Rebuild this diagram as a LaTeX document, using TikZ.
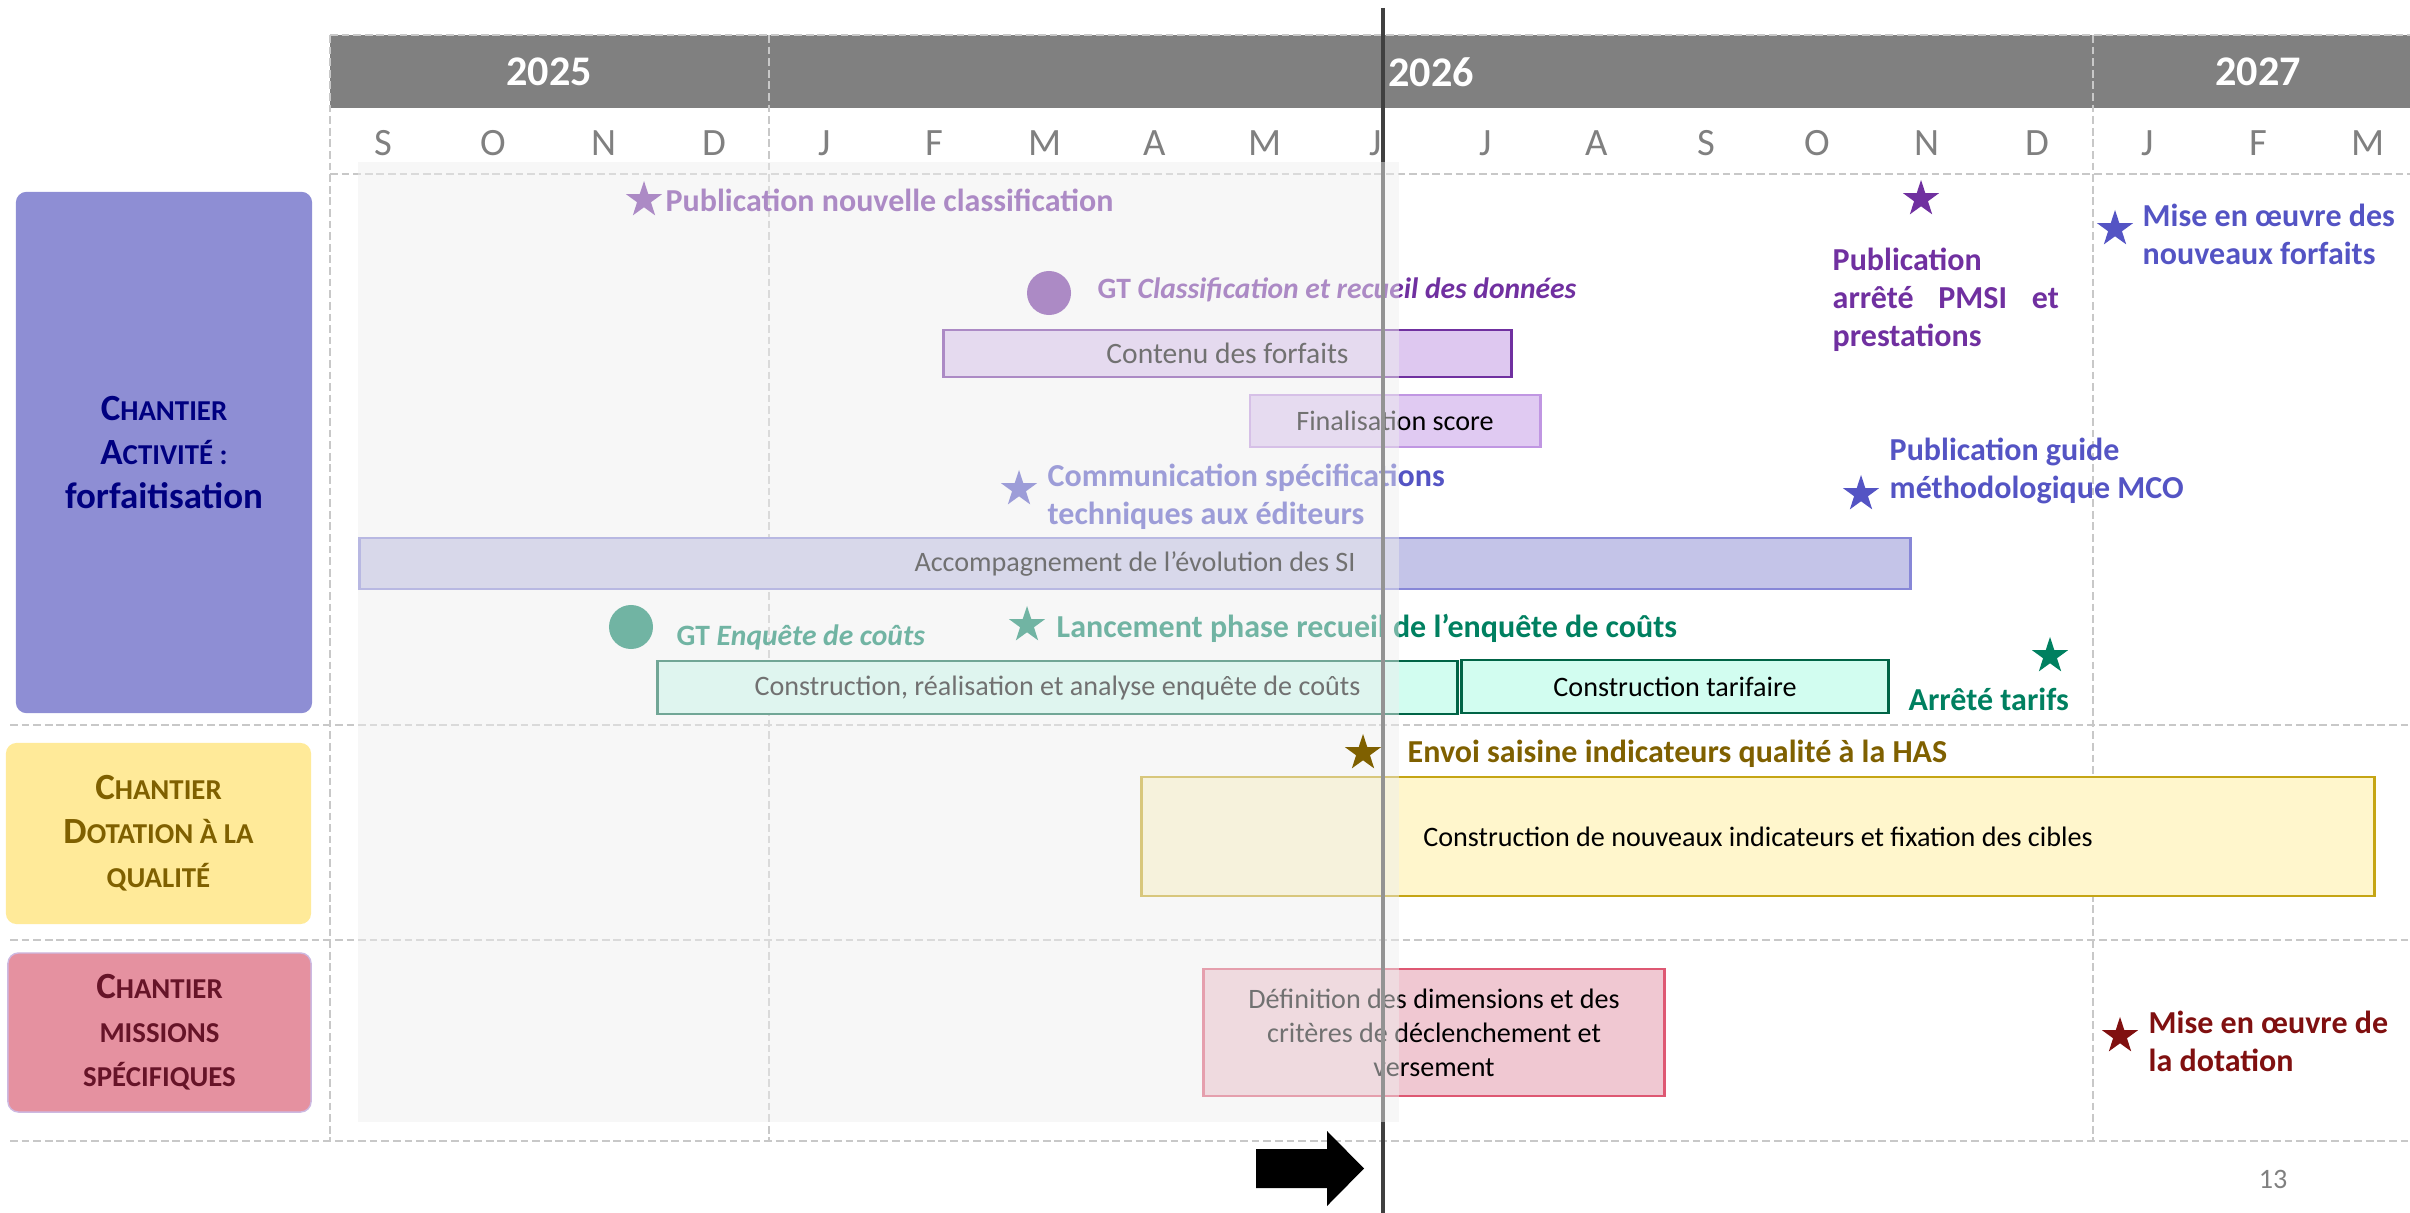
\documentclass[tikz,border=0pt]{standalone}
\usepackage{fontspec}
\setmainfont{Carlito}
\usepackage{tikz}
\usetikzlibrary{shapes.geometric}

\definecolor{headgray}{RGB}{128,128,128}
\definecolor{gridgray}{RGB}{200,200,200}
\definecolor{veilgray}{RGB}{238,238,238}
\definecolor{actviolet}{RGB}{142,142,212}
\definecolor{actnavy}{RGB}{0,0,128}
\definecolor{qualyellow}{RGB}{255,234,153}
\definecolor{qualolive}{RGB}{127,96,0}
\definecolor{misrose}{RGB}{229,145,160}
\definecolor{mismaroon}{RGB}{102,20,40}
\definecolor{classpurple}{RGB}{112,48,160}
\definecolor{siblue}{RGB}{84,84,196}
\definecolor{coutgreen}{RGB}{0,128,96}
\definecolor{dotred}{RGB}{128,16,16}
\definecolor{contenufill}{RGB}{222,200,240}
\definecolor{scorefill}{RGB}{224,202,242}
\definecolor{scoredraw}{RGB}{192,150,226}
\definecolor{sifill}{RGB}{196,196,232}
\definecolor{sidraw}{RGB}{135,135,215}
\definecolor{enqfill}{RGB}{210,253,240}
\definecolor{enqdraw}{RGB}{0,100,70}
\definecolor{indicfill}{RGB}{255,246,204}
\definecolor{indicdraw}{RGB}{197,165,20}
\definecolor{deffill}{RGB}{240,200,210}
\definecolor{defdraw}{RGB}{222,88,115}
\definecolor{todaygray}{RGB}{64,64,64}

\newcommand{\bigsc}[2]{#1{\fontsize{8.2}{12.5}\selectfont #2}}

\begin{document}
\begin{tikzpicture}[x=0.01cm,y=-0.01cm,
    griddash/.style={gridgray, line width=0.6pt, dash pattern=on 2.2pt off 1.1pt},
    annee/.style={text=white, font=\bfseries\fontsize{12}{14}\selectfont},
    mois/.style={text=headgray, font=\fontsize{11}{13}\selectfont},
    chantier/.style={rounded corners=3pt, inner sep=0pt, align=center, font=\bfseries\fontsize{10.5}{12.5}\selectfont},
    tache/.style={draw, line width=0.8pt, inner sep=0pt, align=center, font=\fontsize{8}{9.7}\selectfont},
    jalon/.style={anchor=west, inner sep=0pt, align=left, font=\bfseries\fontsize{9.1}{10.8}\selectfont},
    gtlabel/.style={jalon, font=\bfseries\fontsize{8.4}{10}\selectfont},
    etoile/.style={star, star points=5, star point ratio=2.6, minimum size=0.38cm, inner sep=0pt},
    pastille/.style={circle, minimum size=0.44cm, inner sep=0pt}]
    \useasboundingbox (0,0) rectangle (2410,1213);

    % Header
    \fill[headgray] (330,35) rectangle (2410,108);
    \node[annee] (a2025) at (549,72) {2025};
    \node[annee] (a2026) at (1431,72) {2026};
    \node[annee] (a2027) at (2258,72) {2027};
    \foreach \m [count=\i from 0] in {S,O,N,D,J,F,M,A,M,J,J,A,S,O,N,D,J,F,M}
        \node[mois] (m\i) at ({383+110.3*\i},143) {\m};

    % Grid
    \draw[griddash] (330,35) -- (2410,35);
    \draw[griddash] (330,174) -- (2410,174);
    \foreach \y in {725,940,1141}
        \draw[griddash] (10,\y) -- (2410,\y);
    \foreach \x in {330,769,2093}
        \draw[griddash] (\x,35) -- (\x,1141);

    % Chantiers
    \node[chantier, fill=actviolet, text=actnavy, minimum width=2.96cm, minimum height=5.21cm] (ch-act) at (164,452.5)
        {\bigsc{C}{HANTIER}\\\bigsc{A}{CTIVITÉ :}\\forfaitisation};
    \node[chantier, fill=qualyellow, text=qualolive, minimum width=3.05cm, minimum height=1.81cm] (ch-qual) at (158.5,833.5)
        {\bigsc{C}{HANTIER}\\\bigsc{D}{OTATION À LA}\\\bigsc{}{QUALITÉ}};
    \node[chantier, fill=misrose, draw={rgb,255:red,205;green,185;blue,225}, line width=0.4pt, text=mismaroon, minimum width=3.03cm, minimum height=1.59cm] (ch-mis) at (159.5,1032.5)
        {\bigsc{C}{HANTIER}\\\bigsc{}{MISSIONS}\\\bigsc{}{SPÉCIFIQUES}};

    % Classification
    \node[etoile, fill=classpurple] (s-class) at (644,200) {};
    \node[jalon, text=classpurple] (t-class) at (665,200) {Publication nouvelle classification};
    \node[pastille, fill=classpurple] (gt-class) at (1049,293) {};
    \node[gtlabel, text=classpurple] (t-gtclass) at (1097,290) {GT \textit{Classification et recueil des données}};
    \node[tache, fill=contenufill, draw=classpurple, minimum width=5.67cm, minimum height=0.47cm, font=\fontsize{8.4}{9.7}\selectfont] (contenu) at (1227.5,353.5) {Contenu des forfaits};
    \node[tache, fill=scorefill, draw=scoredraw, minimum width=2.90cm, minimum height=0.52cm] (score) at (1395,421) {Finalisation score};
    \node[etoile, fill=classpurple] (s-pmsi) at (1921,199) {};
    \node[jalon, text=classpurple] (t-pmsi) at (1832,300) {Publication\\\makebox[2.26cm][s]{arrêté PMSI et}\\prestations};
    \node[etoile, fill=siblue] (s-forf) at (2115,229) {};
    \node[jalon, text=siblue] (t-forf) at (2142,234) {Mise en œuvre des\\nouveaux forfaits};

    % SI
    \node[etoile, fill=siblue] (s-spec) at (1019,489) {};
    \node[jalon, text=siblue] (t-spec) at (1047,497) {Communication spécifications\\techniques aux éditeurs};
    \node[etoile, fill=siblue] (s-guide) at (1861,494) {};
    \node[jalon, text=siblue] (t-guide) at (1889,471) {Publication guide\\méthodologique MCO};
    \node[tache, fill=sifill, draw=sidraw, minimum width=15.50cm, minimum height=0.51cm] (si) at (1135,563.5) {Accompagnement de l’évolution des SI};

    % Couts
    \node[pastille, fill=coutgreen] (gt-enq) at (631,627) {};
    \node[gtlabel, text=coutgreen] (t-gtenq) at (676,637) {GT \textit{Enquête de coûts}};
    \node[etoile, fill=coutgreen] (s-lanc) at (1027,625) {};
    \node[jalon, text=coutgreen] (t-lanc) at (1056,628) {Lancement phase recueil de l’enquête de coûts};
    \node[tache, fill=enqfill, draw=enqdraw, minimum width=7.99cm, minimum height=0.53cm] (enquete) at (1057.5,687.5) {Construction, réalisation et analyse enquête de coûts};
    \node[tache, fill=enqfill, draw=enqdraw, minimum width=4.26cm, minimum height=0.53cm] (tarif) at (1675,686.5) {Construction tarifaire};
    \node[etoile, fill=coutgreen] (s-tarifs) at (2050,656) {};
    \node[jalon, text=coutgreen] (t-tarifs) at (1908,699) {Arrêté tarifs};

    % Qualite
    \node[jalon, text=qualolive] (t-has) at (1407,754) {Envoi saisine indicateurs qualité à la HAS};
    \node[tache, fill=indicfill, draw=indicdraw, minimum width=12.32cm, minimum height=1.19cm] (indic) at (1758,836.5)
        {Construction de nouveaux indicateurs et fixation des cibles};

    % Missions
    \node[tache, fill=deffill, draw=defdraw, minimum width=4.60cm, minimum height=1.27cm] (def) at (1434,1032.5)
        {Définition des dimensions et des\\critères de déclenchement et\\versement};
    \node[etoile, fill=dotred] (s-dot) at (2120,1036) {};
    \node[jalon, text=dotred] (t-dot) at (2148,1041) {Mise en œuvre de\\la dotation};

    % Today
    \draw[todaygray, line width=1.4pt] (1383,8) -- (1383,1213);
    \fill[veilgray, opacity=0.48] (358,162) rectangle (1399,1122);
    \node[etoile, fill=qualolive] (s-has) at (1363,753) {};
    \fill[black] (1256,1149) -- (1327,1149) -- (1327,1131) -- (1364,1168.5) -- (1327,1206) -- (1327,1188) -- (1256,1188) -- cycle;

    \node[text=headgray, font=\fontsize{8}{9}\selectfont] (page) at (2273,1179) {13};
\end{tikzpicture}
\end{document}
